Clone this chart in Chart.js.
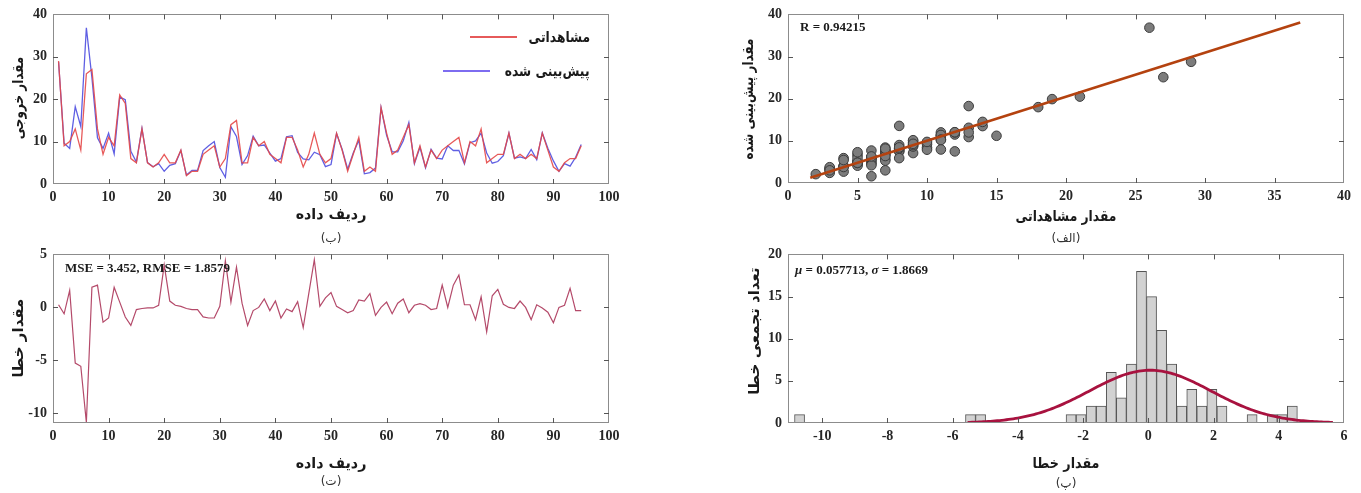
<!DOCTYPE html>
<html>
<head>
<meta charset="utf-8">
<script src="https://cdn.jsdelivr.net/npm/chart.js@4.4.1/dist/chart.umd.min.js"></script>
<style>
  html, body { margin: 0; padding: 0; background: #fff; }
  body { width: 1361px; height: 493px; overflow: hidden; position: relative; font-family: "DejaVu Sans", sans-serif; }
  canvas { position: absolute; }
  .t { position: absolute; white-space: nowrap; font-weight: bold; font-size: 15px; color: #1a1a1a; direction: rtl; transform: translate(-50%, -50%) scaleX(var(--s, 1)); }
  .ty { transform: translate(-50%, -50%) rotate(-90deg) scaleX(var(--s, 1)); }
  .cap { font-weight: normal; font-size: 12px; color: #333; }
  .note { position: absolute; white-space: nowrap; font-family: "Liberation Serif", serif; font-weight: bold; font-size: 13px; color: #1a1a1a; transform: translate(0, -50%); }
  .leg { position: absolute; white-space: nowrap; font-weight: bold; font-size: 15px; color: #1a1a1a; direction: rtl; transform-origin: right center; transform: translate(0, -50%) scaleX(0.82); }
  .swatch { position: absolute; height: 2px; }
</style>
</head>
<body>
<canvas id="cOut" width="640" height="220" style="left:0;top:0"></canvas>
<canvas id="cErr" width="640" height="215" style="left:0;top:240px"></canvas>
<canvas id="cReg" width="621" height="220" style="left:740px;top:0"></canvas>
<canvas id="cHist" width="621" height="215" style="left:740px;top:240px"></canvas>

<!-- legend of the output comparison -->
<div class="swatch" style="left:470px;top:36px;width:47px;background:#e65a5a"></div>
<div class="leg" style="right:771px;top:37px">مشاهداتی</div>
<div class="swatch" style="left:443px;top:70px;width:47px;background:#7d6cf0"></div>
<div class="leg" style="right:771px;top:71px">پیش‌بینی شده</div>

<!-- statistics notes -->
<div class="note" style="left:800px;top:27px">R = 0.94215</div>
<div class="note" style="left:65px;top:268px">MSE = 3.452, RMSE = 1.8579</div>
<div class="note" style="left:795px;top:270px"><i>μ</i> = 0.057713, <i>σ</i> = 1.8669</div>

<!-- axis titles and captions -->
<div class="t ty" style="left:18px;top:98px;--s:0.8">مقدار خروجی</div>
<div class="t" style="left:331px;top:214px;--s:0.95">ردیف داده</div>
<div class="t cap" style="left:331px;top:238px">(ب)</div>

<div class="t ty" style="left:18px;top:338px">مقدار خطا</div>
<div class="t" style="left:331px;top:463px;--s:0.95">ردیف داده</div>
<div class="t cap" style="left:331px;top:481px">(ت)</div>

<div class="t ty" style="left:748px;top:99px;--s:0.8">مقدار پیش‌بینی شده</div>
<div class="t" style="left:1066px;top:216px;--s:0.82">مقدار مشاهداتی</div>
<div class="t cap" style="left:1066px;top:238px">(الف)</div>

<div class="t ty" style="left:754px;top:331px">تعداد تجمعی خطا</div>
<div class="t" style="left:1066px;top:463px;--s:0.85">مقدار خطا</div>
<div class="t cap" style="left:1066px;top:483px">(پ)</div>

<script>
// ---- data: observed and predicted output for each data row (row = index + 1)
const observed = [
  29, 9, 10, 13, 8, 26, 27, 13, 7, 11,
  9, 21, 19, 6, 5, 13, 5, 4, 5, 7,
  5, 5, 8, 2, 3, 3, 7, 8, 9, 4,
  6, 14, 15, 5, 5, 11, 9, 10, 7, 6,
  5, 11, 11, 8, 4, 7, 12, 7, 5, 6,
  12, 8, 3, 7, 11, 3, 4, 3, 18, 12,
  7, 8, 11, 14, 5, 9, 4, 8, 6, 8,
  9, 10, 11, 5, 10, 9, 13, 5, 6, 7,
  7, 12, 6, 7, 6, 7, 6, 12, 8, 4,
  3, 5, 6, 6, 9
];
const predicted = [
  28.75, 9.6, 8.4, 18.25, 13.55, 36.85, 25.1, 10.9, 8.4, 12.0,
  7.1, 20.5, 19.9, 7.7, 5.2, 13.1, 5.05, 4.05, 4.8, 3.0,
  4.4, 4.8, 7.9, 2.1, 3.2, 3.2, 7.9, 9.0, 10.0, 3.9,
  1.6, 13.5, 11.2, 4.6, 6.7, 11.3, 9.0, 9.2, 7.3, 5.4,
  6.0, 11.15, 11.4, 7.45, 5.9, 5.7, 7.5, 6.9, 4.1, 4.6,
  11.9, 8.2, 3.5, 7.3, 10.3, 2.4, 2.7, 3.75, 18.0, 11.5,
  7.6, 7.6, 10.2, 14.5, 4.8, 8.65, 3.8, 8.2, 6.1, 5.9,
  9.0, 7.9, 7.95, 4.75, 9.75, 10.15, 12.0, 7.3, 4.9, 5.3,
  6.7, 12.0, 6.1, 6.4, 6.0, 8.15, 5.75, 12.05, 8.45, 5.45,
  3.0, 4.8, 4.2, 6.3, 9.3
];

// error histogram: counts per bin, first bin edge and bin width
const histCounts = [
  1, 0, 0, 0, 0, 0, 0, 0, 0, 0,
  0, 0, 0, 0, 0, 0, 0, 1, 1, 0,
  0, 0, 0, 0, 0, 0, 0, 1, 1, 2,
  2, 6, 3, 7, 18, 15, 11, 7, 2, 4,
  2, 4, 2, 0, 0, 1, 0, 1, 1, 2
];
const histFirstEdge = -10.85;
const histBinWidth = 0.3084;

// fitted normal distribution of the errors
const errMean = 0.057713;
const errStd = 1.8669;

// tick values
const rowTicks = [0, 10, 20, 30, 40, 50, 60, 70, 80, 90, 100];
const outputTicks = [0, 10, 20, 30, 40];
const errorTicks = [-10, -5, 0, 5];
const obsTicks = [0, 5, 10, 15, 20, 25, 30, 35, 40];
const predTicks = [0, 10, 20, 30, 40];
const histXTicks = [-10, -8, -6, -4, -2, 0, 2, 4, 6];
const histYTicks = [0, 5, 10, 15, 20];

// ---- styling
const TICK_FONT = { family: 'Liberation Serif', weight: 'bold', size: 14 };
const TICK_COLOR = '#262626';
const RED = 'rgba(228, 72, 72, 0.9)';
const BLUE = 'rgba(78, 78, 224, 0.9)';

// MATLAB-like box with inward tick marks on all four sides
const framePlugin = {
  id: 'frame',
  afterDatasetsDraw(chart) {
    const { ctx, chartArea: a } = chart;
    const xs = chart.scales.x, ys = chart.scales.y;
    const L = 5;
    ctx.save();
    ctx.lineWidth = 1;
    ctx.strokeStyle = '#8c8c8c';
    ctx.strokeRect(Math.round(a.left) + 0.5, Math.round(a.top) + 0.5,
      Math.round(a.right - a.left) - 1, Math.round(a.bottom - a.top) - 1);
    ctx.strokeStyle = '#555';
    ctx.beginPath();
    xs.ticks.forEach(t => {
      const p = Math.round(xs.getPixelForValue(t.value)) + 0.5;
      if (p <= a.left + 1 || p >= a.right - 1) return;
      ctx.moveTo(p, a.bottom); ctx.lineTo(p, a.bottom - L);
      ctx.moveTo(p, a.top); ctx.lineTo(p, a.top + L);
    });
    ys.ticks.forEach(t => {
      const p = Math.round(ys.getPixelForValue(t.value)) + 0.5;
      if (p <= a.top + 1 || p >= a.bottom - 1) return;
      ctx.moveTo(a.left, p); ctx.lineTo(a.left + L, p);
      ctx.moveTo(a.right, p); ctx.lineTo(a.right - L, p);
    });
    ctx.stroke();
    ctx.restore();
  }
};

function axes(xr, yr, xt, yt, box) {
  return {
    responsive: false,
    animation: false,
    devicePixelRatio: 1,
    events: [],
    layout: { padding: { left: 0, right: box.padR, top: box.padT, bottom: 0 } },
    plugins: { legend: { display: false }, tooltip: { enabled: false } },
    scales: {
      x: {
        type: 'linear', min: xr[0], max: xr[1], offset: false,
        grid: { display: false, drawTicks: false, offset: false },
        border: { display: false },
        ticks: { font: TICK_FONT, color: TICK_COLOR, padding: 5, maxRotation: 0, autoSkip: false },
        afterBuildTicks: s => { s.ticks = xt.map(v => ({ value: v })); },
        afterFit: s => { s.height = box.xHeight; }
      },
      y: {
        type: 'linear', min: yr[0], max: yr[1],
        grid: { display: false, drawTicks: false },
        border: { display: false },
        ticks: { font: TICK_FONT, color: TICK_COLOR, padding: 6, autoSkip: false },
        afterBuildTicks: s => { s.ticks = yt.map(v => ({ value: v })); },
        afterFit: s => { s.width = box.yWidth; }
      }
    }
  };
}

const rows = observed.map((_, i) => i + 1);

// ---- observed vs predicted output per data row
new Chart(document.getElementById('cOut'), {
  type: 'line',
  data: {
    datasets: [
      { data: rows.map((r, i) => ({ x: r, y: observed[i] })), borderColor: RED, borderWidth: 1.3, pointRadius: 0, tension: 0 },
      { data: rows.map((r, i) => ({ x: r, y: predicted[i] })), borderColor: BLUE, borderWidth: 1.3, pointRadius: 0, tension: 0 }
    ]
  },
  options: axes([0, 100], [0, 40], rowTicks, outputTicks, { yWidth: 53, padR: 31, padT: 13, xHeight: 36 }),
  plugins: [framePlugin]
});

// ---- prediction error per data row
const errors = observed.map((o, i) => o - predicted[i]);
new Chart(document.getElementById('cErr'), {
  type: 'line',
  data: {
    datasets: [
      { data: rows.map((r, i) => ({ x: r, y: errors[i] })), borderColor: '#b44a6a', borderWidth: 1.2, pointRadius: 0, tension: 0 }
    ]
  },
  options: axes([0, 100], [Math.min(...errors) - 0.05, 5], rowTicks, errorTicks, { yWidth: 53, padR: 31, padT: 13, xHeight: 32 }),
  plugins: [framePlugin]
});

// ---- regression of predicted on observed
const n = observed.length;
const mx = observed.reduce((s, v) => s + v, 0) / n;
const my = predicted.reduce((s, v) => s + v, 0) / n;
let sxy = 0, sxx = 0;
for (let i = 0; i < n; i++) { sxy += (observed[i] - mx) * (predicted[i] - my); sxx += (observed[i] - mx) ** 2; }
const slope = sxy / sxx, intercept = my - slope * mx;
const lo = Math.min(...observed, ...predicted), hi = Math.max(...observed, ...predicted);

new Chart(document.getElementById('cReg'), {
  type: 'scatter',
  data: {
    datasets: [
      { type: 'line', data: [{ x: lo, y: slope * lo + intercept }, { x: hi, y: slope * hi + intercept }],
        borderColor: '#b4420f', borderWidth: 2.6, pointRadius: 0 },
      { data: observed.map((o, i) => ({ x: o, y: predicted[i] })),
        pointRadius: 4.8, backgroundColor: '#7c7c7c', borderColor: '#3c3c3c', borderWidth: 1 }
    ]
  },
  options: axes([0, 40], [0, 40], obsTicks, predTicks, { yWidth: 48, padR: 17, padT: 13, xHeight: 37 }),
  plugins: [framePlugin]
});

// ---- error histogram with fitted normal curve
const total = histCounts.reduce((s, v) => s + v, 0);
const bars = [];
histCounts.forEach((c, k) => { if (c > 0) bars.push({ x: histFirstEdge + (k + 0.5) * histBinWidth, y: c }); });
const curve = [];
const steps = 160;
for (let k = 0; k <= steps; k++) {
  const x = errMean - 3 * errStd + (6 * errStd) * k / steps;
  const z = (x - errMean) / errStd;
  curve.push({ x, y: total * histBinWidth * Math.exp(-0.5 * z * z) / (errStd * Math.sqrt(2 * Math.PI)) });
}
const histOpts = axes([-11.05, 6], [0, 20], histXTicks, histYTicks, { yWidth: 48, padR: 17, padT: 13, xHeight: 32 });
histOpts.scales.xc = { type: 'linear', min: -11.05, max: 6, offset: false, grid: { offset: false }, display: false };

new Chart(document.getElementById('cHist'), {
  type: 'bar',
  data: {
    datasets: [
      { type: 'line', xAxisID: 'xc', data: curve, borderColor: '#a8123f', borderWidth: 2.8, pointRadius: 0, tension: 0 },
      { data: bars, backgroundColor: '#d2d2d2', borderColor: '#555', borderWidth: 1,
        barPercentage: 1, categoryPercentage: 1, grouped: false }
    ]
  },
  options: histOpts,
  plugins: [framePlugin]
});
</script>
</body>
</html>
